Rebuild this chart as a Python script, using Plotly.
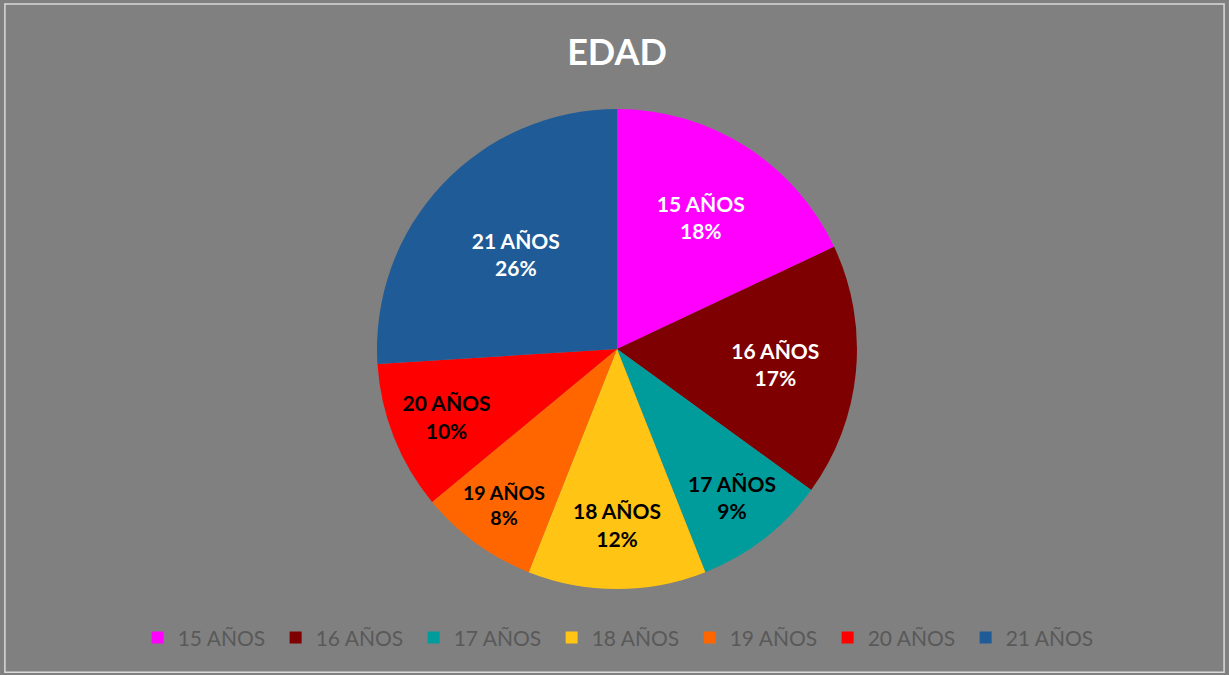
import plotly.graph_objects as go

edades = ['15 AÑOS', '16 AÑOS', '17 AÑOS', '18 AÑOS', '19 AÑOS', '20 AÑOS', '21 AÑOS']
porcentajes = [18, 17, 9, 12, 8, 10, 26]
colores = ['#FF00FF', '#7F0000', '#009C9C', '#FFC414', '#FF6600', '#FF0000', '#1F5B96']
color_texto = ['white', 'white', 'black', 'black', 'black', 'black', 'white']

fig = go.Figure()

fig.add_trace(go.Pie(
    labels=edades,
    values=porcentajes,
    sort=False,
    direction='clockwise',
    rotation=0,
    marker=dict(colors=colores, line=dict(width=0)),
    texttemplate='%{label}<br>%{percent:.0%}',
    textposition='inside',
    insidetextorientation='horizontal',
    textfont=dict(family='Lato', size=21, color=color_texto, weight='bold'),
    domain=dict(x=[377 / 1229, 857 / 1229], y=[86 / 675, 566 / 675]),
    hoverinfo='label+percent',
))

fig.update_layout(
    title=dict(
        text='<b>EDAD</b>',
        x=0.502,
        xanchor='center',
        y=0.923,
        yanchor='middle',
        font=dict(family='Lato', size=36, color='white'),
    ),
    paper_bgcolor='#808080',
    plot_bgcolor='#808080',
    margin=dict(l=0, r=0, t=0, b=0),
    width=1229,
    height=675,
    showlegend=True,
    legend=dict(
        orientation='h',
        x=0.505,
        xanchor='center',
        y=0.055,
        yanchor='middle',
        font=dict(family='Lato', size=21, color='#595959'),
        bgcolor='rgba(0,0,0,0)',
        entrywidth=93,
    ),
    shapes=[dict(
        type='rect', xref='paper', yref='paper',
        x0=0.004, x1=0.996, y0=0.004, y1=0.994,
        line=dict(color='#D9D9D9', width=1.5),
        fillcolor='rgba(0,0,0,0)',
        layer='below',
    )],
)

fig.write_html("out.html", config={'displayModeBar': False},
               post_script="document.body.style.margin='0';")
